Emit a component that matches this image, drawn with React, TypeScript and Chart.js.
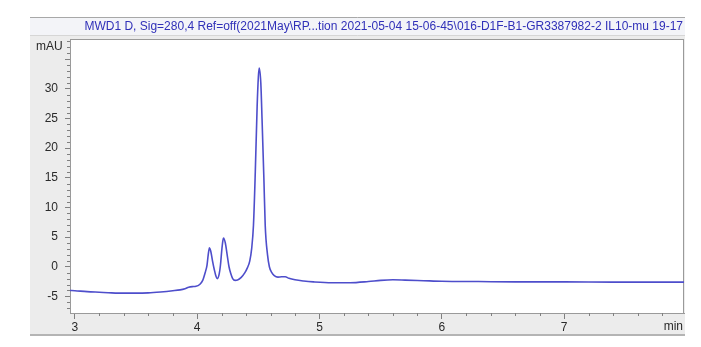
import React, { useEffect, useRef } from 'react';
import { Chart, registerables } from 'chart.js';

Chart.register(...registerables);

const TITLE =
  'MWD1 D, Sig=280,4 Ref=off(2021May\\RP...tion 2021-05-04 15-06-45\\016-D1F-B1-GR3387982-2 IL10-mu 19-17';
const Y_UNIT = 'mAU';
const X_UNIT = 'min';

// retention time (min)
const timeMin = [
  2.96, 3.0, 3.1, 3.2, 3.3, 3.4, 3.5, 3.6, 3.7, 3.8, 3.86, 3.9, 3.93, 3.96, 3.99, 4.02,
  4.045, 4.065, 4.08, 4.09, 4.1, 4.11, 4.125, 4.14, 4.155, 4.165, 4.18, 4.19, 4.2, 4.21, 4.215,
  4.23, 4.245, 4.26, 4.275, 4.29, 4.31, 4.33, 4.36, 4.39, 4.41, 4.43, 4.445, 4.46, 4.475,
  4.49, 4.5, 4.507, 4.52, 4.53, 4.545, 4.556, 4.575, 4.59, 4.61, 4.63, 4.66, 4.69, 4.72, 4.75,
  4.8, 4.87, 4.95, 5.1, 5.25, 5.4, 5.5, 5.6, 5.7, 5.85, 6.0, 6.3, 6.6, 7.0, 7.4, 7.8, 7.98,
];
// signal (mAU)
const signalMAU = [
  -4.0, -4.05, -4.2, -4.3, -4.4, -4.45, -4.45, -4.4, -4.25, -4.05, -3.9, -3.7, -3.45, -3.35, -3.3, -3.0,
  -2.3, -1.0, 0.25, 2.0, 3.2, 2.7, 1.0, -0.5, -1.7, -2.0, -1.2, 0.25, 2.6, 4.4, 4.85,
  4.0, 2.0, 0.0, -1.2, -2.0, -2.3, -2.25, -1.8, -1.0, -0.2, 1.0, 3.0, 7.0, 16.0,
  27.0, 32.0, 33.5, 31.0, 25.0, 15.0, 7.0, 2.0, 0.0, -1.0, -1.5, -1.75, -1.7, -1.7, -1.95,
  -2.2, -2.4, -2.55, -2.7, -2.7, -2.5, -2.3, -2.2, -2.25, -2.35, -2.45, -2.5, -2.55, -2.55, -2.6, -2.6, -2.6,
];

const X_MIN = 2.96;
const X_MAX = 7.98;
const Y_MIN = -7.8;
const Y_MAX = 38.4;
const X_LABEL_MAX = 7;
const Y_LABEL_MAX = 30;

const FONT = "'Liberation Sans', Arial, sans-serif";

const panelPlugin = {
  id: 'panel',
  beforeDraw(chart: any) {
    const { ctx, chartArea: a } = chart;
    ctx.save();
    ctx.fillStyle = '#ffffff';
    ctx.fillRect(0, 0, chart.width, chart.height);
    // gray panel
    ctx.fillStyle = '#ececec';
    ctx.fillRect(30, 17, 655, 318);
    // title bar
    ctx.fillStyle = '#f3f4f8';
    ctx.fillRect(30, 17, 655, 18);
    ctx.strokeStyle = '#a8a8a8';
    ctx.lineWidth = 1;
    ctx.beginPath();
    ctx.moveTo(30, 17.5);
    ctx.lineTo(685, 17.5);
    ctx.stroke();
    ctx.strokeStyle = '#d6d6d6';
    ctx.beginPath();
    ctx.moveTo(30, 35.5);
    ctx.lineTo(685, 35.5);
    ctx.stroke();
    // bottom border
    ctx.strokeStyle = '#b4b4b4';
    ctx.lineWidth = 2;
    ctx.beginPath();
    ctx.moveTo(30, 335);
    ctx.lineTo(685, 335);
    ctx.stroke();
    // plot box
    ctx.fillStyle = '#ffffff';
    ctx.fillRect(a.left, a.top, a.right - a.left, a.bottom - a.top);
    ctx.strokeStyle = '#9a9a9a';
    ctx.lineWidth = 1;
    ctx.strokeRect(a.left + 0.5, a.top + 0.5, a.right - a.left - 1, a.bottom - a.top);
    // title
    ctx.fillStyle = '#3030b8';
    ctx.font = `12px ${FONT}`;
    ctx.textAlign = 'right';
    ctx.textBaseline = 'middle';
    ctx.fillText(TITLE, 683, 27, 604);
    ctx.restore();
  },
  afterDraw(chart: any) {
    const { ctx, chartArea: a } = chart;
    const xs = chart.scales.x;
    const ys = chart.scales.y;
    ctx.save();
    ctx.strokeStyle = '#808080';
    ctx.lineWidth = 1;
    ctx.beginPath();
    for (let i = Math.ceil(Y_MIN); i <= Math.floor(Y_MAX); i++) {
      if (i % 5 === 0) continue;
      const py = Math.round(ys.getPixelForValue(i)) + 0.5;
      ctx.moveTo(a.left - 3, py);
      ctx.lineTo(a.left, py);
    }
    for (let k = Math.ceil(X_MIN * 5); k <= Math.floor(X_MAX * 5); k++) {
      if (k % 5 === 0) continue;
      const px = Math.round(xs.getPixelForValue(k / 5)) + 0.5;
      ctx.moveTo(px, a.bottom);
      ctx.lineTo(px, a.bottom + 3);
    }
    ctx.stroke();
    ctx.fillStyle = '#2a2a2a';
    ctx.font = `12px ${FONT}`;
    ctx.textBaseline = 'middle';
    ctx.textAlign = 'left';
    ctx.fillText(Y_UNIT, 36, 47);
    ctx.textAlign = 'right';
    ctx.fillText(X_UNIT, 683, 327);
    ctx.restore();
  },
};

export default function App() {
  const ref = useRef<HTMLCanvasElement>(null);
  useEffect(() => {
    document.body.style.margin = '0';
    const points = timeMin.map((t, i) => ({ x: t, y: signalMAU[i] }));
    const chart = new Chart(ref.current!, {
      type: 'line',
      data: {
        datasets: [
          {
            data: points,
            borderColor: '#4e4ecb',
            borderWidth: 1.6,
            pointRadius: 0,
            cubicInterpolationMode: 'monotone',
            fill: false,
          },
        ],
      },
      options: {
        animation: false,
        responsive: false,
        devicePixelRatio: 1,
        layout: { padding: { left: 30, top: 39, right: 17, bottom: 12 } },
        plugins: { legend: { display: false }, tooltip: { enabled: false } },
        scales: {
          x: {
            type: 'linear',
            min: X_MIN,
            max: X_MAX,
            ticks: {
              stepSize: 1,
              includeBounds: false,
              autoSkip: false,
              maxRotation: 0,
              padding: 1,
              color: '#2a2a2a',
              font: { family: FONT, size: 12 },
              callback: (v: any) => (v <= X_LABEL_MAX ? String(v) : ''),
            },
            grid: { drawOnChartArea: false, tickLength: 6, color: '#808080' },
            border: { color: '#9a9a9a' },
            afterFit: (s: any) => {
              s.height = 22;
            },
          },
          y: {
            type: 'linear',
            min: Y_MIN,
            max: Y_MAX,
            ticks: {
              stepSize: 5,
              includeBounds: false,
              autoSkip: false,
              padding: 7,
              color: '#2a2a2a',
              font: { family: FONT, size: 12 },
              callback: (v: any) => (v <= Y_LABEL_MAX ? String(v) : ''),
            },
            grid: { drawOnChartArea: false, tickLength: 5, color: '#808080' },
            border: { color: '#9a9a9a' },
            afterFit: (s: any) => {
              s.width = 40;
            },
          },
        },
      },
      plugins: [panelPlugin],
    });
    return () => chart.destroy();
  }, []);
  return (
    <div style={{ position: 'absolute', left: 0, top: 0, width: 701, height: 347 }}>
      <canvas ref={ref} width={701} height={347} style={{ display: 'block' }} />
    </div>
  );
}
